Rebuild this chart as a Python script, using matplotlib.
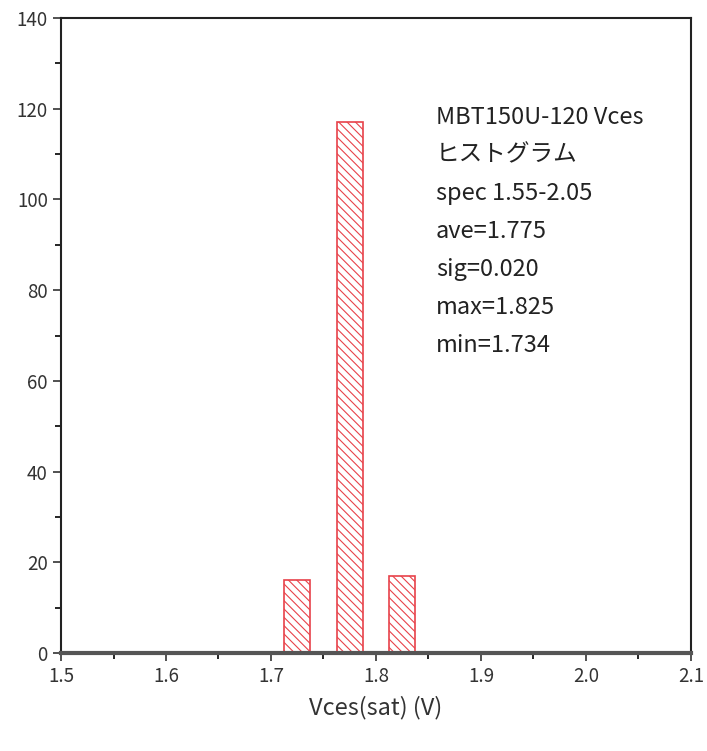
import matplotlib.pyplot as plt
from matplotlib.ticker import MultipleLocator, FormatStrFormatter

plt.rcParams['font.family'] = ['Noto Sans CJK JP', 'DejaVu Sans']
plt.rcParams['hatch.color'] = '#e8424a'
plt.rcParams['hatch.linewidth'] = 0.8

# histogram bins (centres) and counts
bin_centers = [1.725, 1.775, 1.825]
counts = [16, 117, 17]
bin_width = 0.025

info_lines = ["MBT150U-120 Vces", "ヒストグラム", "spec 1.55-2.05",
              "ave=1.775", "sig=0.020", "max=1.825", "min=1.734"]

fig = plt.figure(figsize=(7.07, 7.51), dpi=100)
ax = fig.add_axes([0.0863, 0.1305, 0.891, 0.8455])

ax.bar(bin_centers, counts, width=bin_width, color='white',
       edgecolor='#e8424a', linewidth=1.2, hatch='\\\\\\\\')

ax.set_xlim(1.5, 2.1)
ax.set_ylim(0, 140)
ax.xaxis.set_major_locator(MultipleLocator(0.1))
ax.xaxis.set_minor_locator(MultipleLocator(0.05))
ax.xaxis.set_major_formatter(FormatStrFormatter('%.1f'))
ax.yaxis.set_major_locator(MultipleLocator(20))
ax.yaxis.set_minor_locator(MultipleLocator(10))
ax.tick_params(which='major', length=6, width=1.2, labelsize=13.5, colors='#333333')
ax.tick_params(which='minor', length=4, width=1.2)

for s in ['left', 'top', 'right']:
    ax.spines[s].set_linewidth(1.5)
    ax.spines[s].set_color('#222222')
ax.spines['bottom'].set_linewidth(3)
ax.spines['bottom'].set_color('#555555')

ax.set_xlabel("Vces(sat) (V)", fontsize=17, color='#333333', labelpad=6)

ax.text(0.595, 0.862, "\n".join(info_lines), transform=ax.transAxes,
        fontsize=17, color='#222222', va='top', ha='left', linespacing=1.84)

fig.savefig("out.png", dpi=100)
